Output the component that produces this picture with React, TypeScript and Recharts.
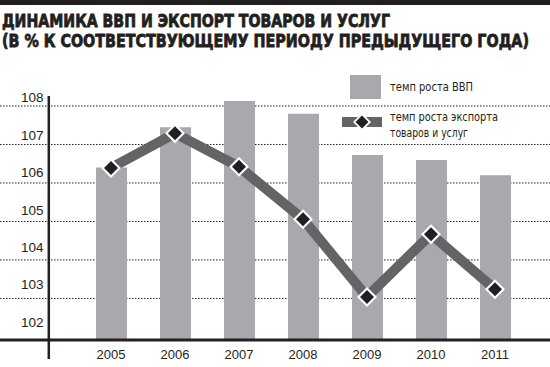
import React from 'react';
import { ComposedChart, Bar, Line, XAxis, YAxis, CartesianGrid } from 'recharts';

const years = ['2005', '2006', '2007', '2008', '2009', '2010', '2011'];
const gdpGrowth = [106.4, 107.45, 108.13, 107.8, 106.73, 106.6, 106.2];
const exportGrowth = [106.39, 107.29, 106.42, 105.06, 103.04, 104.67, 103.24];
const yTicks = [102, 103, 104, 105, 106, 107, 108];
const gridValues = [103, 104, 105, 106, 107, 108];
const titleLines = [
  'ДИНАМИКА ВВП И ЭКСПОРТ ТОВАРОВ И УСЛУГ',
  '(В % К СООТВЕТСТВУЮЩЕМУ ПЕРИОДУ ПРЕДЫДУЩЕГО ГОДА)',
];
const gdpLabel = 'темп роста ВВП';
const exportLabel = ['темп роста экспорта', 'товаров и услуг'];

const data = years.map((year, i) => ({ year, gdp: gdpGrowth[i], exp: exportGrowth[i] }));

const INK = '#231f20';
const BAR = '#a7a9ac';
const LINE = '#636466';
const FONT = 'Arial, "Liberation Sans", Helvetica, sans-serif';
const TITLE_FONT = '"Liberation Sans Narrow", "Arial Narrow", "DejaVu Sans Condensed", "Liberation Sans", sans-serif';

const diamond = (cx: number, cy: number, r: number) =>
  `${cx},${cy - r} ${cx + r},${cy} ${cx},${cy + r} ${cx - r},${cy}`;

const renderDot = (p: any) => {
  const { cx, cy, index } = p;
  if (cx == null || cy == null) return <g key={`d${index}`} />;
  return (
    <g key={`d${index}`}>
      <polygon points={diamond(cx, cy, 10)} fill="#ffffff" />
      <polygon points={diamond(cx, cy, 7)} fill={INK} />
    </g>
  );
};

const XTick = (p: any) => {
  const { x, y, payload } = p;
  return (
    <text x={x} y={y + 19.3} textAnchor="middle" fontSize={13} fontFamily={FONT} fill={INK}>
      {payload.value}
    </text>
  );
};

const YTick = (p: any) => {
  const { y, payload } = p;
  const v = Number(payload.value);
  const dy = -3.7 - (108 - v) * 1.08;
  return (
    <text x={43.5} y={y + dy} textAnchor="end" fontSize={13.5} fontFamily={FONT} fill={INK}>
      {payload.value}
    </text>
  );
};

export default function App() {
  return (
    <div style={{ position: 'absolute', left: 0, top: 0, width: 550, height: 367, background: '#fff' }}>
      <ComposedChart
        width={550}
        height={367}
        data={data}
        margin={{ top: 98, right: 0, bottom: 0, left: -40 }}
        style={{ overflow: 'visible' }}
      >
        <CartesianGrid
          vertical={false}
          horizontalValues={gridValues}
          stroke={INK}
          strokeDasharray="1.5 1.5"
          strokeWidth={1}
        />
        <XAxis
          dataKey="year"
          height={27}
          padding={{ left: 79, right: 23 }}
          axisLine={{ stroke: INK, strokeWidth: 3 }}
          tickLine={false}
          tickSize={0}
          tickMargin={0}
          tick={<XTick />}
          interval={0}
        />
        <YAxis
          width={40}
          domain={[101.92, 108.208]}
          ticks={yTicks}
          allowDataOverflow
          axisLine={false}
          tickLine={false}
          tickSize={0}
          tickMargin={0}
          tick={<YTick />}
          interval={0}
        />
        <Bar dataKey="gdp" name={gdpLabel} fill={BAR} barSize={31} isAnimationActive={false} />
        <Line
          dataKey="exp"
          name={exportLabel.join(' ')}
          stroke={LINE}
          strokeWidth={10}
          dot={renderDot}
          activeDot={false}
          isAnimationActive={false}
        />
      </ComposedChart>
      <svg
        width={550}
        height={367}
        style={{ position: 'absolute', left: 0, top: 0, pointerEvents: 'none' }}
      >
        <rect x={0} y={0} width={550} height={5} fill={INK} />
        <text
          x={2}
          y={27.3}
          fontSize={18.5}
          fontWeight="bold"
          fontFamily={TITLE_FONT}
          fill={INK}
          stroke={INK}
          strokeWidth={0.8}
          textLength={388}
          lengthAdjust="spacingAndGlyphs"
        >
          {titleLines[0]}
        </text>
        <text
          x={2}
          y={46.7}
          fontSize={18.5}
          fontWeight="bold"
          fontFamily={TITLE_FONT}
          fill={INK}
          stroke={INK}
          strokeWidth={0.8}
          textLength={527}
          lengthAdjust="spacingAndGlyphs"
        >
          {titleLines[1]}
        </text>
        <line x1={48.8} y1={96} x2={48.8} y2={359} stroke={INK} strokeWidth={2.5} />
        <rect x={350} y={75} width={31} height={24} fill={BAR} />
        <text x={390} y={90.7} fontSize={12.5} fontFamily={TITLE_FONT} fill={INK} textLength={83} lengthAdjust="spacingAndGlyphs">
          {gdpLabel}
        </text>
        <rect x={342} y={117} width={40} height={10} fill={LINE} />
        <polygon points={diamond(362, 122, 9)} fill="#ffffff" />
        <polygon points={diamond(362, 122, 6.5)} fill={INK} />
        <text x={390} y={121} fontSize={12.5} fontFamily={TITLE_FONT} fill={INK} textLength={108} lengthAdjust="spacingAndGlyphs">
          {exportLabel[0]}
        </text>
        <text x={390} y={136.7} fontSize={12.5} fontFamily={TITLE_FONT} fill={INK} textLength={78} lengthAdjust="spacingAndGlyphs">
          {exportLabel[1]}
        </text>
      </svg>
    </div>
  );
}
